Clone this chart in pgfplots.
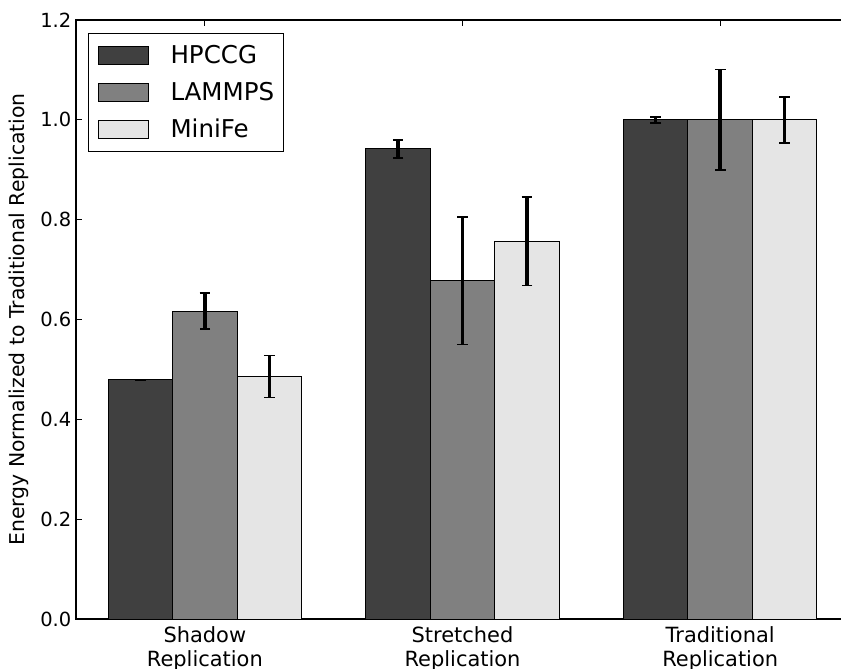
\documentclass[border=0pt]{standalone}
\usepackage{fontspec}
\setmainfont{DejaVu Sans}
\usepackage{pgfplots}
\pgfplotsset{compat=1.18}

\definecolor{hpccg}{gray}{0.25}
\definecolor{lammps}{gray}{0.5}
\definecolor{minife}{gray}{0.898}

\begin{document}
\begin{tikzpicture}
\path[use as bounding box, clip] (0,0) rectangle (630.75pt,501pt);
\begin{axis}[
  at={(57pt,36.75pt)}, anchor=south west,
  scale only axis,
  width=579.75pt, height=449.25pt,
  xmin=-0.125, xmax=2.875,
  ymin=0, ymax=1.2,
  axis line style={line width=0.9pt},
  tick align=inside,
  major tick length=4.8pt,
  every tick/.style={black, line width=0.75pt},
  xtick={0.375,1.375,2.375},
  xticklabels={{Shadow\\Replication},{Stretched\\Replication},{Traditional\\Replication}},
  xticklabel style={align=center, font=\fontsize{15.7}{17.6}\selectfont, yshift=-2.5pt},
  ytick={0,0.2,0.4,0.6,0.8,1.0,1.2},
  yticklabel style={font=\fontsize{14.6}{17.3}\selectfont, /pgf/number format/.cd, fixed, fixed zerofill, precision=1},
  /pgf/number format/assume math mode=true,
  ylabel={Energy Normalized to Traditional Replication},
  ylabel style={font=\fontsize{15.3}{18}\selectfont, at={(axis description cs:-0.066,0.5)}, anchor=base},
  legend cell align=left,
  legend style={at={(0.0151,0.9788)}, anchor=north west, draw=black, line width=0.75pt,
    font=\fontsize{18.4}{22}\selectfont, inner xsep=7.2pt, inner ysep=9pt,
    nodes={inner sep=0pt},
    row sep=12.6pt, column sep=15.8pt},
  legend image code/.code={\draw[#1] (0pt,-6.9pt) rectangle (38pt,6.9pt);},
  error bars/error bar style={line width=2.6pt, black},
  error bars/error mark options={rotate=90, mark size=4pt, line width=1.3pt, black},
]
\addplot[ybar, bar width=0.25, bar shift=0pt, fill=hpccg, draw=black, line width=0.75pt,
  error bars/.cd, y dir=both, y explicit]
  coordinates {(0.125,0.479) +- (0,0.001) (1.125,0.942) +- (0,0.018) (2.125,1.0) +- (0,0.006)};
\addlegendentry{HPCCG}
\addplot[ybar, bar width=0.25, bar shift=0pt, fill=lammps, draw=black, line width=0.75pt,
  error bars/.cd, y dir=both, y explicit]
  coordinates {(0.375,0.617) +- (0,0.036) (1.375,0.678) +- (0,0.128) (2.375,1.0) +- (0,0.101)};
\addlegendentry{LAMMPS}
\addplot[ybar, bar width=0.25, bar shift=0pt, fill=minife, draw=black, line width=0.75pt,
  error bars/.cd, y dir=both, y explicit]
  coordinates {(0.625,0.486) +- (0,0.042) (1.625,0.757) +- (0,0.089) (2.625,1.0) +- (0,0.046)};
\addlegendentry{MiniFe}
\end{axis}
\end{tikzpicture}
\end{document}
